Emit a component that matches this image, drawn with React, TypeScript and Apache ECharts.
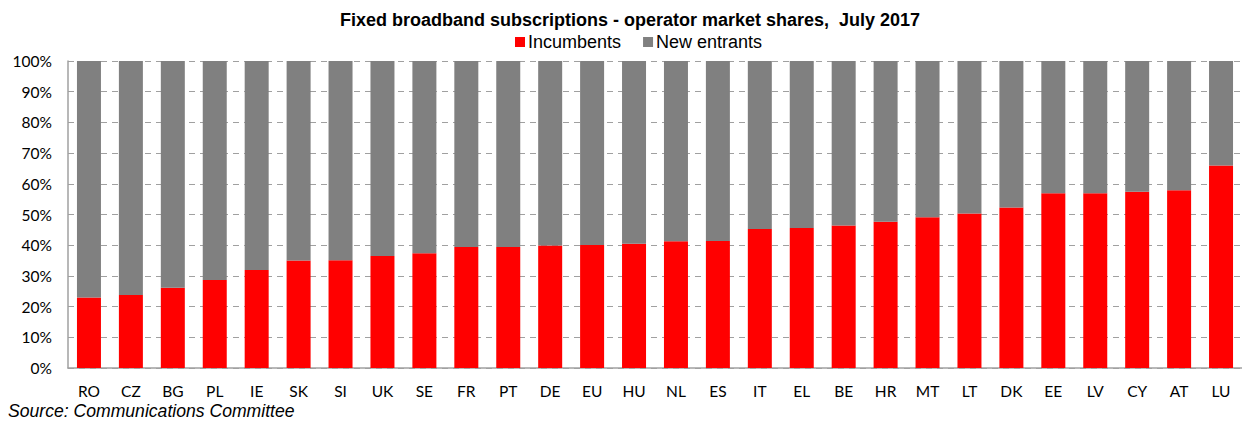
import React, { useEffect, useRef } from "react";
import * as echarts from "echarts";

const categories = ["RO","CZ","BG","PL","IE","SK","SI","UK","SE","FR","PT","DE","EU","HU","NL","ES","IT","EL","BE","HR","MT","LT","DK","EE","LV","CY","AT","LU"];
const incumbents = [23.0,23.8,26.1,28.7,31.9,35.0,35.1,36.5,37.4,39.4,39.4,39.9,40.1,40.5,41.3,41.4,45.3,45.6,46.4,47.6,49.1,50.3,52.3,56.9,56.9,57.4,57.9,66.0];
const newEntrants = [77.0,76.2,73.9,71.3,68.1,65.0,64.9,63.5,62.6,60.6,60.6,60.1,59.9,59.5,58.7,58.6,54.7,54.4,53.6,52.4,50.9,49.7,47.7,43.1,43.1,42.6,42.1,34.0];

export default function App() {
  const ref = useRef<HTMLDivElement>(null);
  useEffect(() => {
    if (!ref.current) return;
    const chart = echarts.init(ref.current, null, { renderer: "svg" });
    chart.setOption({
      animation: false,
      backgroundColor: "#ffffff",
      title: {
        text: "Fixed broadband subscriptions - operator market shares,  July 2017",
        left: 625,
        textAlign: "center",
        top: 6,
        textStyle: { fontFamily: "Liberation Sans, Arial, sans-serif", fontSize: 18, fontWeight: "bold", color: "#000" },
      },
      legend: {
        left: 510,
        top: 28,
        itemWidth: 10,
        itemHeight: 10,
        itemGap: 22,
        icon: "rect",
        textStyle: { fontFamily: "Liberation Sans, Arial, sans-serif", fontSize: 18, color: "#000", padding: [0, 0, 0, -2] },
        data: ["Incumbents", "New entrants"],
      },
      grid: { left: 68, right: 0, top: 61, bottom: 53, containLabel: false },
      xAxis: {
        type: "category",
        data: categories,
        axisLine: { lineStyle: { color: "#a0a0a0", width: 1.5 } },
        axisTick: { show: false },
        axisLabel: { fontFamily: "Lato, Open Sans, sans-serif", fontSize: 15.5, color: "#000", margin: 15, interval: 0 },
      },
      yAxis: {
        type: "value",
        min: 0,
        max: 100,
        interval: 10,
        axisLine: { show: true, lineStyle: { color: "#a0a0a0", width: 1.5 } },
        axisTick: { show: false },
        axisLabel: { formatter: "{value}%", fontFamily: "Lato, Open Sans, sans-serif", fontSize: 15.5, color: "#000", margin: 16 },
        splitLine: { lineStyle: { color: "#a0a0a0", type: [6, 5], width: 1.2 } },
      },
      series: [
        {
          name: "Incumbents",
          type: "bar",
          stack: "total",
          data: incumbents,
          barWidth: 24,
          itemStyle: { color: "#ff0000" },
        },
        {
          name: "New entrants",
          type: "bar",
          stack: "total",
          data: newEntrants,
          barWidth: 24,
          itemStyle: { color: "#808080" },
        },
      ],
      graphic: [
        {
          type: "text",
          left: 8,
          top: 402,
          style: {
            text: "Source: Communications Committee",
            font: "italic 17.6px 'Liberation Sans', Arial, sans-serif",
            fill: "#000",
          },
        },
      ],
    });
    return () => chart.dispose();
  }, []);
  return <div ref={ref} style={{ position: "fixed", left: 0, top: 0, width: 1242, height: 421 }} />;
}
